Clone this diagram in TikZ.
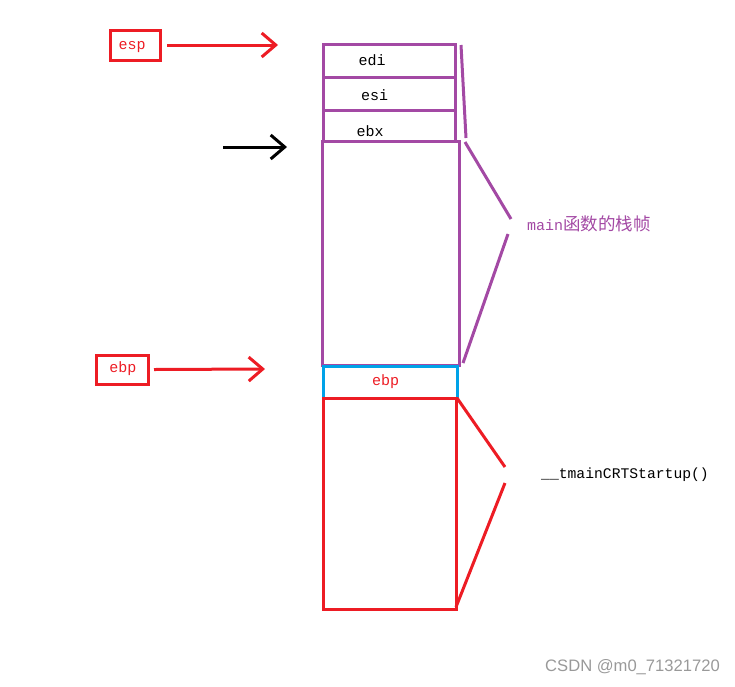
\documentclass[tikz,border=0pt]{standalone}
\usepackage{fontspec}
\setmainfont{Liberation Serif}
\setmonofont{Liberation Mono}
\setsansfont{Liberation Sans}
\newfontfamily\cjk{Noto Sans CJK SC}
\usetikzlibrary{arrows.meta}
\definecolor{pred}{HTML}{ED1C24}
\definecolor{ppur}{HTML}{A349A4}
\definecolor{pcyan}{HTML}{00A2E8}
\tikzset{
  cell/.style={draw, line width=3pt, inner sep=0pt, minimum width=#1},
  celltext/.style={font=\fontsize{15}{16}\ttfamily, inner sep=0pt},
  regbox/.style={draw=pred, line width=3pt, inner sep=0pt},
  ptr/.style={line width=3pt, -{Straight Barb[length=14pt,width=24pt,line width=3pt]}},
  brace/.style={line width=3pt},
}
\begin{document}
\begin{tikzpicture}[x=1pt,y=-1pt]
\useasboundingbox (0,0) rectangle (735,686);
% stack cells
\node[cell=132pt, ppur, minimum height=33pt] (edi) at (389,60.5) {};
\node[cell=132pt, ppur, minimum height=33pt] (esi) at (389,93.5) {};
\node[cell=132pt, ppur, minimum height=31pt] (ebx) at (389,125.5) {};
\node[cell=137pt, ppur, minimum height=224pt] (mainf) at (390.5,253) {};
\node[cell=134pt, pcyan, minimum height=32pt] (ebpc) at (390,382) {};
\node[cell=133pt, pred, minimum height=211pt] (crt) at (389.5,503.5) {};
% cell texts
\node[celltext] (tedi) at (372,60) {edi};
\node[celltext] (tesi) at (374.5,95) {esi};
\node[celltext] (tebx) at (370,131) {ebx};
\node[celltext, text=pred] (tebp) at (385.5,382) {ebp};
% register boxes
\node[regbox, minimum width=50pt, minimum height=30pt] (espbox) at (135,45) {};
\node[celltext, text=pred] (tesp) at (132,47) {esp};
\node[regbox, minimum width=52pt, minimum height=29pt] (ebpbox) at (122,369.5) {};
\node[celltext, text=pred] (tebpr) at (123,369) {ebp};
% arrows
\coordinate (espend) at (278,45);
\coordinate (ebpend) at (265,369);
\coordinate (blkstart) at (223,147);
\coordinate (blkend) at (287,147);
\draw[ptr, pred] (espbox.east -| 167,45) -- (espend);
\draw[ptr, pred] (ebpbox.east -| 154,369) -- (ebpend);
\draw[ptr, black] (blkstart) -- (blkend);
% purple bracket
\coordinate (pb1) at (461,45);
\coordinate (pb2) at (466,138);
\coordinate (pb3) at (465,142);
\coordinate (pb4) at (511,219);
\coordinate (pb5) at (508,234);
\coordinate (pb6) at (463,363);
\draw[brace, ppur] (pb1) -- (pb2);
\draw[brace, ppur] (pb3) -- (pb4);
\draw[brace, ppur] (pb5) -- (pb6);
% red bracket
\coordinate (rb1) at (457,398);
\coordinate (rb2) at (505,467);
\coordinate (rb3) at (505,483);
\coordinate (rb4) at (456,607);
\draw[brace, pred] (rb1) -- (rb2);
\draw[brace, pred] (rb3) -- (rb4);
% labels
\node[anchor=west, inner sep=0pt, text=ppur] (mainlbl) at (527,224)
  {\fontsize{15}{18}\ttfamily main{\cjk\fontsize{17.5}{18}\selectfont 函数的栈帧}};
\node[anchor=west, inner sep=0pt, font=\fontsize{14.7}{16}\ttfamily] (crtlbl) at (541,475) {\_\_tmainCRTStartup()};
\node[anchor=west, inner sep=0pt, text=black!40, font=\fontsize{16.6}{18}\sffamily] (wm) at (545,667) {CSDN @m0\_71321720};
\end{tikzpicture}
\end{document}
